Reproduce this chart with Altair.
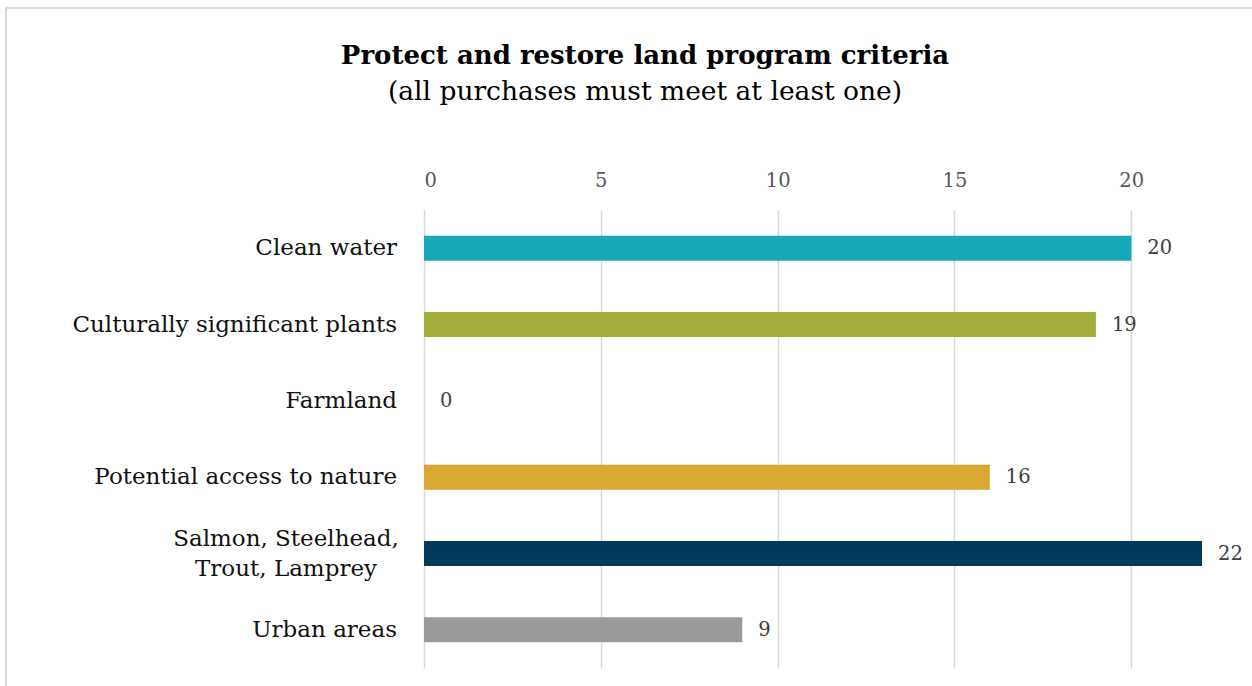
import altair as alt
import pandas as pd

# Program criteria and the number of purchases meeting each
categories = [
    "Clean water",
    "Culturally significant plants",
    "Farmland",
    "Potential access to nature",
    "Salmon, Steelhead, Trout, Lamprey",
    "Urban areas",
]
display_labels = [
    "Clean water",
    "Culturally significant plants",
    "Farmland",
    "Potential access to nature",
    "Salmon, Steelhead,\nTrout, Lamprey",
    "Urban areas",
]
counts = [20, 19, 0, 16, 22, 9]
bar_colors = ["#17A8B7", "#A3AD3A", "#7F7F7F", "#D9A832", "#023A5B", "#9A9A9A"]
tick_values = [0, 5, 10, 15, 20]

df = pd.DataFrame({
    "category": categories,
    "label": display_labels,
    "count": counts,
    "multiline": ["\n" in s for s in display_labels],
})

FONT = "DejaVu Serif"
W, H = 778, 458

y_enc = alt.Y("category:N", sort=categories, axis=None,
              scale=alt.Scale(paddingInner=0.0, paddingOuter=0.0))
x_scale = alt.Scale(domain=[0, 22], nice=False)

base = alt.Chart(df)

bars = base.mark_bar(size=25).encode(
    x=alt.X(
        "count:Q",
        scale=x_scale,
        title=None,
        axis=alt.Axis(
            orient="top",
            values=tick_values,
            domain=False,
            ticks=False,
            grid=True,
            gridColor="#D9D9D9",
            gridWidth=1.5,
            labelFont=FONT,
            labelFontSize=19.5,
            labelColor="#595959",
            labelPadding=20,
        ),
    ),
    y=y_enc,
    color=alt.Color("category:N", sort=categories,
                    scale=alt.Scale(domain=categories, range=bar_colors),
                    legend=None),
)

values = base.mark_text(align="left", baseline="middle", dx=16,
                        font=FONT, fontSize=19.5, color="#404040").encode(
    x=alt.X("count:Q", scale=x_scale),
    y=y_enc,
    text="count:Q",
)

single_labels = base.transform_filter("!datum.multiline").mark_text(
    align="right", baseline="middle", font=FONT, fontSize=23, color="#111111"
).encode(x=alt.value(-27), y=y_enc, text="label:N")

multi_labels = base.transform_filter("datum.multiline").mark_text(
    align="center", baseline="middle", font=FONT, fontSize=23, color="#111111",
    lineBreak="\n", lineHeight=30, dy=-15
).encode(x=alt.value(-138), y=y_enc, text="label:N")

# Light frame around the chart
frame = alt.Chart(pd.DataFrame({"k": [0]})).mark_rect(
    fill=None, stroke="#D9D9D9", strokeWidth=2, clip=False
).encode(
    x=alt.value(-418), x2=alt.value(900),
    y=alt.value(-202), y2=alt.value(600),
)

chart = alt.layer(frame, bars, values, single_labels, multi_labels).properties(
    width=W,
    height=H,
    padding={"left": 424, "top": 210, "right": 50, "bottom": 18},
    autosize=alt.AutoSizeParams(type="none"),
    background="white",
    title=alt.TitleParams(
        text="Protect and restore land program criteria",
        subtitle="(all purchases must meet at least one)",
        font=FONT,
        fontSize=26,
        fontWeight="bold",
        color="#000000",
        subtitleFont=FONT,
        subtitleFontSize=26.5,
        subtitleColor="#000000",
        subtitlePadding=10,
        anchor="middle",
        frame="group",
        dx=-168,
        offset=-98,
    ),
).configure_view(stroke=None)

chart.save("out.html", embed_options={"renderer": "svg", "actions": False})
